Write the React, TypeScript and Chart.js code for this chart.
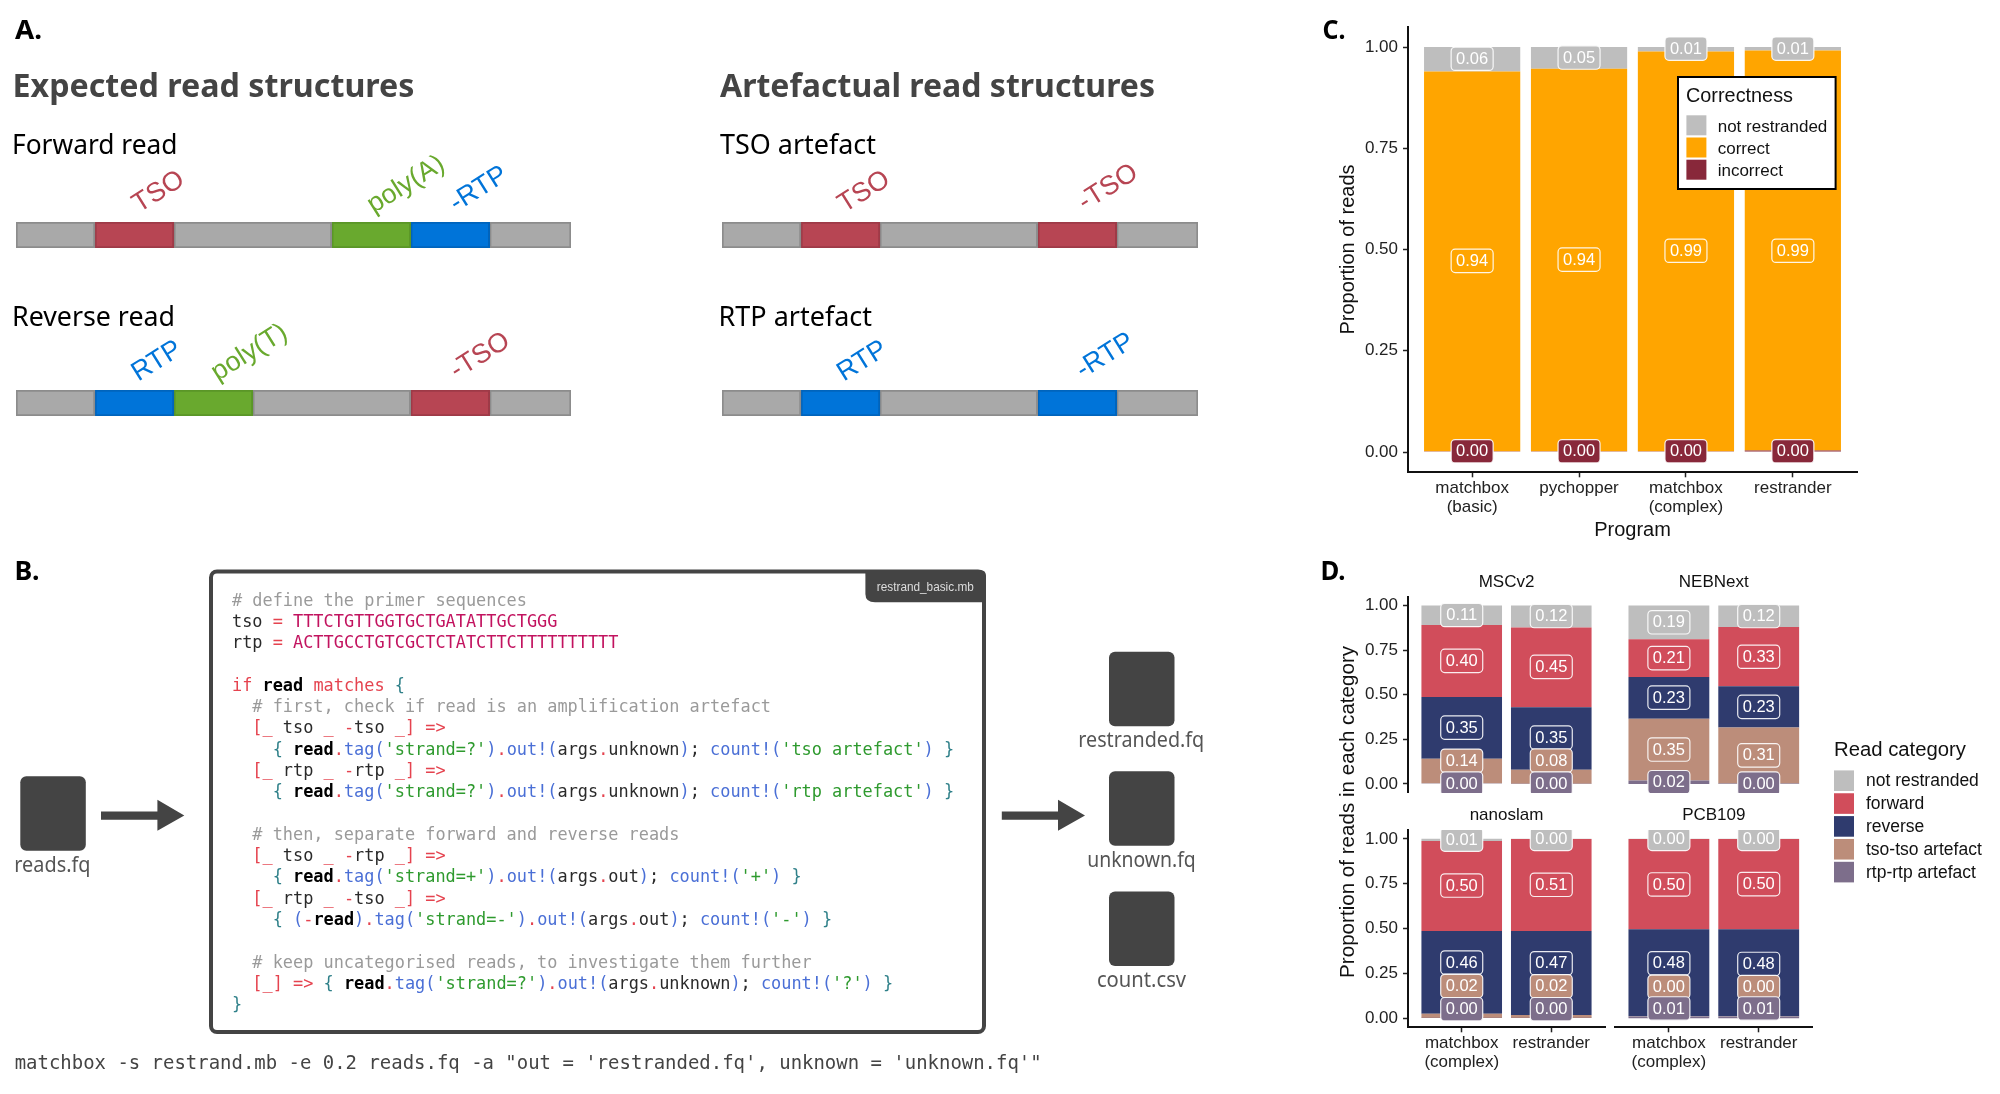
import React, { useEffect, useRef } from "react";
import Chart from "chart.js/auto";

const SANS = "'Liberation Sans', Arial, sans-serif";
const HEAD = "'Noto Sans', sans-serif";
const MONO = "'DejaVu Sans Mono', monospace";

// ---------- panel A ----------
const segColors: Record<string, [string, string]> = {
  spacer: ["#A9A9A9", "#8C8C8C"],
  tso: ["#B74553", "#9E3A47"],
  polyA: ["#69A92E", "#5A9627"],
  rtp: ["#0074D9", "#0064BC"],
};
const forwardSegments = [1, 1, 2, 1, 1, 1.03];
const forwardKinds = ["spacer", "tso", "spacer", "polyA", "rtp", "spacer"];
const reverseSegments = [1, 1, 1, 2, 1, 1.03];
const reverseKinds = ["spacer", "rtp", "polyA", "spacer", "tso", "spacer"];
const tsoArtefactSegments = [1, 1, 2, 1, 1.03];
const tsoArtefactKinds = ["spacer", "tso", "spacer", "tso", "spacer"];
const rtpArtefactSegments = [1, 1, 2, 1, 1.03];
const rtpArtefactKinds = ["spacer", "rtp", "spacer", "rtp", "spacer"];

// ---------- panel C ----------
const programs: (string | string[])[] = [["matchbox", "(basic)"], "pychopper", ["matchbox", "(complex)"], "restrander"];
const cCategories = ["not restranded", "correct", "incorrect"];
const cColors = ["#BEBEBE", "#FFA500", "#88283A"];
const cNotRestranded = [0.0607, 0.0535, 0.0114, 0.0088];
const cCorrect = [0.9373, 0.9445, 0.9866, 0.9872];
const cIncorrect = [0.002, 0.002, 0.002, 0.004];
const cNotRestrandedLabelY = [0.971, 0.974, 0.996, 0.996];
const cCorrectLabelY = [0.472, 0.475, 0.497, 0.497];
const cIncorrectLabelY = [0.002, 0.002, 0.002, 0.002];

// ---------- panel D ----------
const kits = ["MSCv2", "NEBNext", "nanoslam", "PCB109"];
const dPrograms: (string | string[])[] = [["matchbox", "(complex)"], "restrander"];
const dCategories = ["not restranded", "forward", "reverse", "tso-tso artefact", "rtp-rtp artefact"];
const dColors = ["#BEBEBE", "#D14D5B", "#2F3B6E", "#BC8D7A", "#7D6E8B"];
const dNotRestranded = [[0.109, 0.123], [0.189, 0.121], [0.012, 0.001], [0.001, 0.001]];
const dForward = [[0.403, 0.447], [0.211, 0.332], [0.502, 0.513], [0.503, 0.503]];
const dReverse = [[0.347, 0.35], [0.234, 0.231], [0.461, 0.468], [0.484, 0.484]];
const dTso = [[0.137, 0.079], [0.346, 0.314], [0.023, 0.016], [0.002, 0.002]];
const dRtp = [[0.004, 0.001], [0.02, 0.002], [0.002, 0.002], [0.01, 0.01]];
const dNotRestrandedLabelY = [[0.947, 0.941], [0.906, 0.941], [0.996, 1.0], [1.0, 1.0]];
const dForwardLabelY = [[0.69, 0.656], [0.705, 0.713], [0.74, 0.744], [0.746, 0.748]];
const dReverseLabelY = [[0.316, 0.26], [0.484, 0.432], [0.311, 0.307], [0.307, 0.303]];
const dTsoLabelY = [[0.13, 0.131], [0.193, 0.16], [0.18, 0.178], [0.176, 0.174]];
const dRtpLabelY = [[0.002, 0.002], [0.01, 0.002], [0.051, 0.051], [0.055, 0.055]];

const yTickValues = [0, 0.25, 0.5, 0.75, 1];

// ---------- panel B ----------
const codeLines = [
  "# define the primer sequences",
  "tso = TTTCTGTTGGTGCTGATATTGCTGGG",
  "rtp = ACTTGCCTGTCGCTCTATCTTCTTTTTTTTTT",
  "",
  "if read matches {",
  "  # first, check if read is an amplification artefact",
  "  [_ tso _ -tso _] =>",
  "    { read.tag('strand=?').out!(args.unknown); count!('tso artefact') }",
  "  [_ rtp _ -rtp _] =>",
  "    { read.tag('strand=?').out!(args.unknown); count!('rtp artefact') }",
  "",
  "  # then, separate forward and reverse reads",
  "  [_ tso _ -rtp _] =>",
  "    { read.tag('strand=+').out!(args.out); count!('+') }",
  "  [_ rtp _ -tso _] =>",
  "    { (-read).tag('strand=-').out!(args.out); count!('-') }",
  "",
  "  # keep uncategorised reads, to investigate them further",
  "  [_] => { read.tag('strand=?').out!(args.unknown); count!('?') }",
  "}",
];
const commandLine = `matchbox -s restrand.mb -e 0.2 reads.fq -a "out = 'restranded.fq', unknown = 'unknown.fq'"`;

function tokenize(line: string) {
  const re = /(#.*$)|('[^']*')|([ACGT]{20,})|(\b_\b)|(\bread\b)|(\bif\b|\bmatches\b)|(\btag\b|\bout!|\bcount!)|([{}])|([()])|(=>|[=\-\[\].])|(\s+)|([\w]+|[;,+?])/g;
  const out: { t: string; fill: string; bold?: boolean }[] = [];
  let m: RegExpExecArray | null;
  while ((m = re.exec(line))) {
    const t = m[0];
    let fill = "#2a2a2a", bold = false;
    if (m[1]) fill = "#9a9a9a";
    else if (m[2]) fill = "#2E9A2E";
    else if (m[3]) fill = "#C2135F";
    else if (m[4]) fill = "#E5434F";
    else if (m[5]) { fill = "#000"; bold = true; }
    else if (m[6]) fill = "#E5434F";
    else if (m[7]) fill = "#4A6FD6";
    else if (m[8]) fill = "#2F8089";
    else if (m[9]) fill = "#4A6FD6";
    else if (m[10]) fill = "#E5434F";
    out.push({ t, fill, bold });
  }
  return out;
}

// ---------- plugins ----------
const labelPlugin = {
  id: "segLabels",
  afterDatasetsDraw(chart: any) {
    const { ctx, chartArea: a, scales } = chart;
    ctx.save();
    ctx.beginPath();
    ctx.rect(a.left, a.top, a.right - a.left, a.bottom - a.top);
    ctx.clip();
    ctx.font = `16.5px ${SANS}`;
    ctx.textAlign = "center";
    ctx.textBaseline = "middle";
    for (let d = chart.data.datasets.length - 1; d >= 0; d--) {
      const ds = chart.data.datasets[d];
      ds.data.forEach((p: any, i: number) => {
        const x = scales.x.getPixelForValue(p.x);
        const y = scales.y.getPixelForValue(ds.labelY[i]);
        const w = 42, h = 23.4;
        ctx.beginPath();
        ctx.roundRect(x - w / 2, y - h / 2, w, h, 4);
        ctx.fillStyle = ds.backgroundColor;
        ctx.fill();
        ctx.lineWidth = 1.2;
        ctx.strokeStyle = "rgba(255,255,255,0.9)";
        ctx.stroke();
        ctx.fillStyle = "#fff";
        ctx.fillText(p.y.toFixed(2), x, y + 0.5);
      });
    }
    ctx.restore();
  },
};

const titlePlugin = (text: string) => ({
  id: "panelTitle",
  afterDraw(chart: any) {
    const { ctx, chartArea: a } = chart;
    ctx.save();
    ctx.font = `17px ${SANS}`;
    ctx.fillStyle = "#111";
    ctx.textAlign = "center";
    ctx.textBaseline = "middle";
    ctx.fillText(text, (a.left + a.right) / 2, a.top - 14.5);
    ctx.restore();
  },
});

// ---------- builders ----------
function yAxis(display: boolean, title?: any) {
  return {
    type: "linear", stacked: true, min: -0.05, max: 1.05, display,
    afterBuildTicks: (s: any) => { s.ticks = yTickValues.map((value) => ({ value })); },
    ticks: { callback: (v: any) => Number(v).toFixed(2), font: { family: SANS, size: 17 }, color: "#222", padding: 5, autoSkip: false },
    grid: { drawOnChartArea: false, drawTicks: true, tickLength: 5, tickColor: "#222", tickWidth: 1.5 },
    border: { color: "#111", width: 2 },
    title,
    afterFit: (s: any) => { s.width = display ? 88 : 0; s.paddingTop = 0; s.paddingBottom = 0; },
  };
}

function xAxis(display: boolean, labels: (string | string[])[], height: number, title?: any) {
  return {
    type: "linear", stacked: true, min: 0.4, max: labels.length + 0.6, display, offset: false,
    afterBuildTicks: (s: any) => { s.ticks = labels.map((_, i) => ({ value: i + 1 })); },
    ticks: { callback: (v: any) => labels[Number(v) - 1], font: { family: SANS, size: 17, lineHeight: 1.12 }, color: "#222", padding: 1.5, autoSkip: false, maxRotation: 0, minRotation: 0 },
    grid: { offset: false, drawOnChartArea: false, drawTicks: true, tickLength: 5, tickColor: "#222", tickWidth: 1.5 },
    border: { color: "#111", width: 2 },
    title,
    afterFit: (s: any) => { s.height = display ? height : 0; s.paddingLeft = 0; s.paddingRight = 0; },
  };
}

function stackedDataset(label: string, color: string, values: number[], labelY: number[]) {
  return {
    label, backgroundColor: color, borderWidth: 0, labelY,
    data: values.map((y, i) => ({ x: i + 1, y })),
    barPercentage: 0.9, categoryPercentage: 1,
  };
}

function panelC() {
  return {
    type: "bar",
    data: {
      datasets: [
        stackedDataset(cCategories[2], cColors[2], cIncorrect, cIncorrectLabelY),
        stackedDataset(cCategories[1], cColors[1], cCorrect, cCorrectLabelY),
        stackedDataset(cCategories[0], cColors[0], cNotRestranded, cNotRestrandedLabelY),
      ],
    },
    options: {
      animation: false, responsive: false,
      layout: { padding: { top: 10.75, right: 23, left: 0, bottom: 0 } },
      plugins: { legend: { display: false }, tooltip: { enabled: false } },
      scales: {
        x: xAxis(true, programs, 73.7, { display: true, text: "Program", font: { family: SANS, size: 20 }, color: "#111", padding: { top: 0, bottom: 3.4 } }),
        y: yAxis(true, { display: true, text: "Proportion of reads", font: { family: SANS, size: 20 }, color: "#111", padding: { top: 16, bottom: 0 } }),
      },
    },
    plugins: [labelPlugin],
  };
}

function panelD(k: number, showY: boolean, showX: boolean, pad: any, xh: number) {
  return {
    type: "bar",
    data: {
      datasets: [
        stackedDataset(dCategories[4], dColors[4], dRtp[k], dRtpLabelY[k]),
        stackedDataset(dCategories[3], dColors[3], dTso[k], dTsoLabelY[k]),
        stackedDataset(dCategories[2], dColors[2], dReverse[k], dReverseLabelY[k]),
        stackedDataset(dCategories[1], dColors[1], dForward[k], dForwardLabelY[k]),
        stackedDataset(dCategories[0], dColors[0], dNotRestranded[k], dNotRestrandedLabelY[k]),
      ],
    },
    options: {
      animation: false, responsive: false,
      layout: { padding: pad },
      plugins: { legend: { display: false }, tooltip: { enabled: false } },
      scales: { x: xAxis(showX, dPrograms, xh), y: yAxis(showY) },
    },
    plugins: [labelPlugin, titlePlugin(kits[k])],
  };
}

function track(name: string, segments: number[], kinds: string[]) {
  return {
    type: "bar",
    data: {
      labels: [name],
      datasets: segments.map((v, i) => ({
        label: kinds[i], data: [v],
        backgroundColor: segColors[kinds[i]][0], borderColor: segColors[kinds[i]][1], borderWidth: 2, borderSkipped: false,
        barPercentage: 1, categoryPercentage: 1,
      })),
    },
    options: {
      indexAxis: "y", animation: false, responsive: false,
      layout: { padding: 0 },
      plugins: { legend: { display: false }, tooltip: { enabled: false } },
      scales: {
        x: { type: "linear", stacked: true, display: false, min: 0, max: segments.reduce((a, b) => a + b, 0), offset: false },
        y: { type: "category", stacked: true, display: false, offset: true },
      },
    },
  };
}

const charts = [
  { left: 15.5, top: 222, width: 555, height: 26, cfg: () => track("Forward read", forwardSegments, forwardKinds) },
  { left: 15.5, top: 390, width: 555, height: 26, cfg: () => track("Reverse read", reverseSegments, reverseKinds) },
  { left: 721.5, top: 222, width: 476, height: 26, cfg: () => track("TSO artefact", tsoArtefactSegments, tsoArtefactKinds) },
  { left: 721.5, top: 390, width: 476, height: 26, cfg: () => track("RTP artefact", rtpArtefactSegments, rtpArtefactKinds) },
  { left: 1320, top: 16, width: 560, height: 530, cfg: panelC },
  { left: 1320, top: 570, width: 290, height: 230, cfg: () => panelD(0, true, false, { top: 26.6, bottom: 7.1, left: 0, right: 5 }, 0) },
  { left: 1610, top: 570, width: 210, height: 230, cfg: () => panelD(1, false, false, { top: 26.6, bottom: 7.1, left: 5, right: 7.4 }, 0) },
  { left: 1320, top: 804, width: 290, height: 290, cfg: () => panelD(2, true, true, { top: 25.9, bottom: 0, left: 0, right: 5 }, 66.7) },
  { left: 1610, top: 804, width: 210, height: 290, cfg: () => panelD(3, false, true, { top: 25.9, bottom: 0, left: 5, right: 7.4 }, 66.7) },
];

function T({ x, y, w, size, fill = "#111", weight = 400, family = SANS, children }: any) {
  return (
    <text x={x} y={y} fontSize={size} fill={fill} fontWeight={weight} fontFamily={family}
      textLength={w} lengthAdjust={w ? "spacingAndGlyphs" : undefined}>{children}</text>
  );
}

function Rot({ x, y, fill, children }: any) {
  return (
    <text transform={`translate(${x} ${y}) rotate(-32)`} textAnchor="middle" dy="0.36em"
      fontSize={27} fill={fill} fontFamily={SANS}>{children}</text>
  );
}

function Icon({ x, y }: { x: number; y: number }) {
  return <rect x={x} y={y} width={65.5} height={74.6} rx={6} fill="#444" />;
}

function Arrow({ x0, x1, x2 }: { x0: number; x1: number; x2: number }) {
  return <path d={`M${x0} 811.4 H${x1} V799.7 L${x2} 815.4 L${x1} 830.7 V819.8 H${x0} Z`} fill="#444" />;
}

export default function App() {
  const refs = useRef<(HTMLCanvasElement | null)[]>([]);
  useEffect(() => {
    const made = charts.map((c, i) => new Chart(refs.current[i] as any, c.cfg() as any));
    return () => made.forEach((m) => m.destroy());
  }, []);
  const red = segColors.tso[0], green = segColors.polyA[0], blue = segColors.rtp[0];
  return (
    <div style={{ position: "absolute", left: 0, top: 0, width: 2000, height: 1094, background: "#fff", overflow: "hidden" }}>
      {charts.map((c, i) => (
        <canvas key={i} ref={(el) => { refs.current[i] = el; }} width={c.width} height={c.height}
          style={{ position: "absolute", left: c.left, top: c.top, width: c.width, height: c.height }} />
      ))}
      <svg width={2000} height={1094} style={{ position: "absolute", left: 0, top: 0, pointerEvents: "none" }}>
        {/* panel letters */}
        <T x={15} y={38.5} w={27} size={27} weight={700} family={HEAD} fill="#000">A.</T>
        <T x={14.5} y={579.5} w={25} size={27} weight={700} family={HEAD} fill="#000">B.</T>
        <T x={1322.5} y={38.5} w={23} size={27} weight={700} family={HEAD} fill="#000">C.</T>
        <T x={1320.5} y={580} w={25} size={27} weight={700} family={HEAD} fill="#000">D.</T>

        {/* panel A text */}
        <T x={12.5} y={96.7} w={402} size={32} weight={700} family={HEAD} fill="#444">Expected read structures</T>
        <T x={720} y={96.7} w={435} size={32} weight={700} family={HEAD} fill="#444">Artefactual read structures</T>
        <T x={12} y={153.7} w={165.5} size={27} family={HEAD} fill="#000">Forward read</T>
        <T x={12} y={326} w={163} size={27} family={HEAD} fill="#000">Reverse read</T>
        <T x={720} y={153.7} w={156} size={27} family={HEAD} fill="#000">TSO artefact</T>
        <T x={718.5} y={326} w={153.5} size={27} family={HEAD} fill="#000">RTP artefact</T>
        <Rot x={157.4} y={190} fill={red}>TSO</Rot>
        <Rot x={404.9} y={182.7} fill={green}>poly(A)</Rot>
        <Rot x={477.7} y={187.3} fill={blue}>-RTP</Rot>
        <Rot x={155.7} y={359.3} fill={blue}>RTP</Rot>
        <Rot x={248.3} y={350.7} fill={green}>poly(T)</Rot>
        <Rot x={479} y={354} fill={red}>-TSO</Rot>
        <Rot x={862.9} y={190} fill={red}>TSO</Rot>
        <Rot x={1107} y={185.7} fill={red}>-TSO</Rot>
        <Rot x={861.2} y={359.3} fill={blue}>RTP</Rot>
        <Rot x={1104} y={354} fill={blue}>-RTP</Rot>

        {/* panel B */}
        <rect x={211} y={571.5} width={773} height={460.5} rx={6} fill="none" stroke="#444" strokeWidth={4} />
        <path d="M865.4 570 H980 Q986 570 986 576 V602.3 H875 Q865.4 602.3 865.4 594 Z" fill="#444" />
        <T x={876.8} y={591} w={97} size={12.5} fill="#ddd">restrand_basic.mb</T>
        {codeLines.map((l, i) => (
          <text key={i} x={232} y={605.5 + i * 21.3} fontFamily={MONO} fontSize={16.9} style={{ whiteSpace: "pre" }} xmlSpace="preserve">
            {tokenize(l).map((tok, j) => (
              <tspan key={j} fill={tok.fill} fontWeight={tok.bold ? 700 : 400}>{tok.t}</tspan>
            ))}
          </text>
        ))}
        <T x={14.7} y={1069} w={1027} size={18.9} family={MONO} fill="#444">{commandLine}</T>
        <Icon x={20.3} y={776.2} />
        <T x={14.3} y={872.3} w={76.2} size={21} family={HEAD} fill="#555">reads.fq</T>
        <Arrow x0={101} x1={157.4} x2={184.3} />
        <Arrow x0={1001.8} x1={1058} x2={1085} />
        <Icon x={1109} y={651.7} />
        <T x={1078.3} y={746.8} w={125.9} size={21} family={HEAD} fill="#555">restranded.fq</T>
        <Icon x={1109} y={771.2} />
        <T x={1087.2} y={867.2} w={108.6} size={21} family={HEAD} fill="#555">unknown.fq</T>
        <Icon x={1109} y={891.4} />
        <T x={1096.9} y={987.3} w={89.2} size={21} family={HEAD} fill="#555">count.csv</T>

        {/* panel C legend */}
        <rect x={1678} y={77} width={157.6} height={112} fill="#fff" stroke="#000" strokeWidth={2} />
        <T x={1686} y={101.5} w={107} size={20}>Correctness</T>
        {cCategories.map((c, i) => (
          <g key={c}>
            <rect x={1686.4} y={115.3 + i * 22.2} width={20} height={20} fill={cColors[i]} />
            <T x={1717.7} y={131.6 + i * 22.2} size={17}>{c}</T>
          </g>
        ))}

        {/* panel D legend and shared title */}
        <text transform="translate(1353.5 811.9) rotate(-90)" textAnchor="middle" fontSize={20.6} fontFamily={SANS} fill="#111">Proportion of reads in each category</text>
        <T x={1834} y={756} w={132} size={20}>Read category</T>
        {dCategories.map((c, i) => (
          <g key={c}>
            <rect x={1834} y={770.4 + i * 22.85} width={20} height={20.6} fill={dColors[i]} />
            <T x={1866} y={786.4 + i * 22.85} size={17.5}>{c}</T>
          </g>
        ))}
      </svg>
    </div>
  );
}
